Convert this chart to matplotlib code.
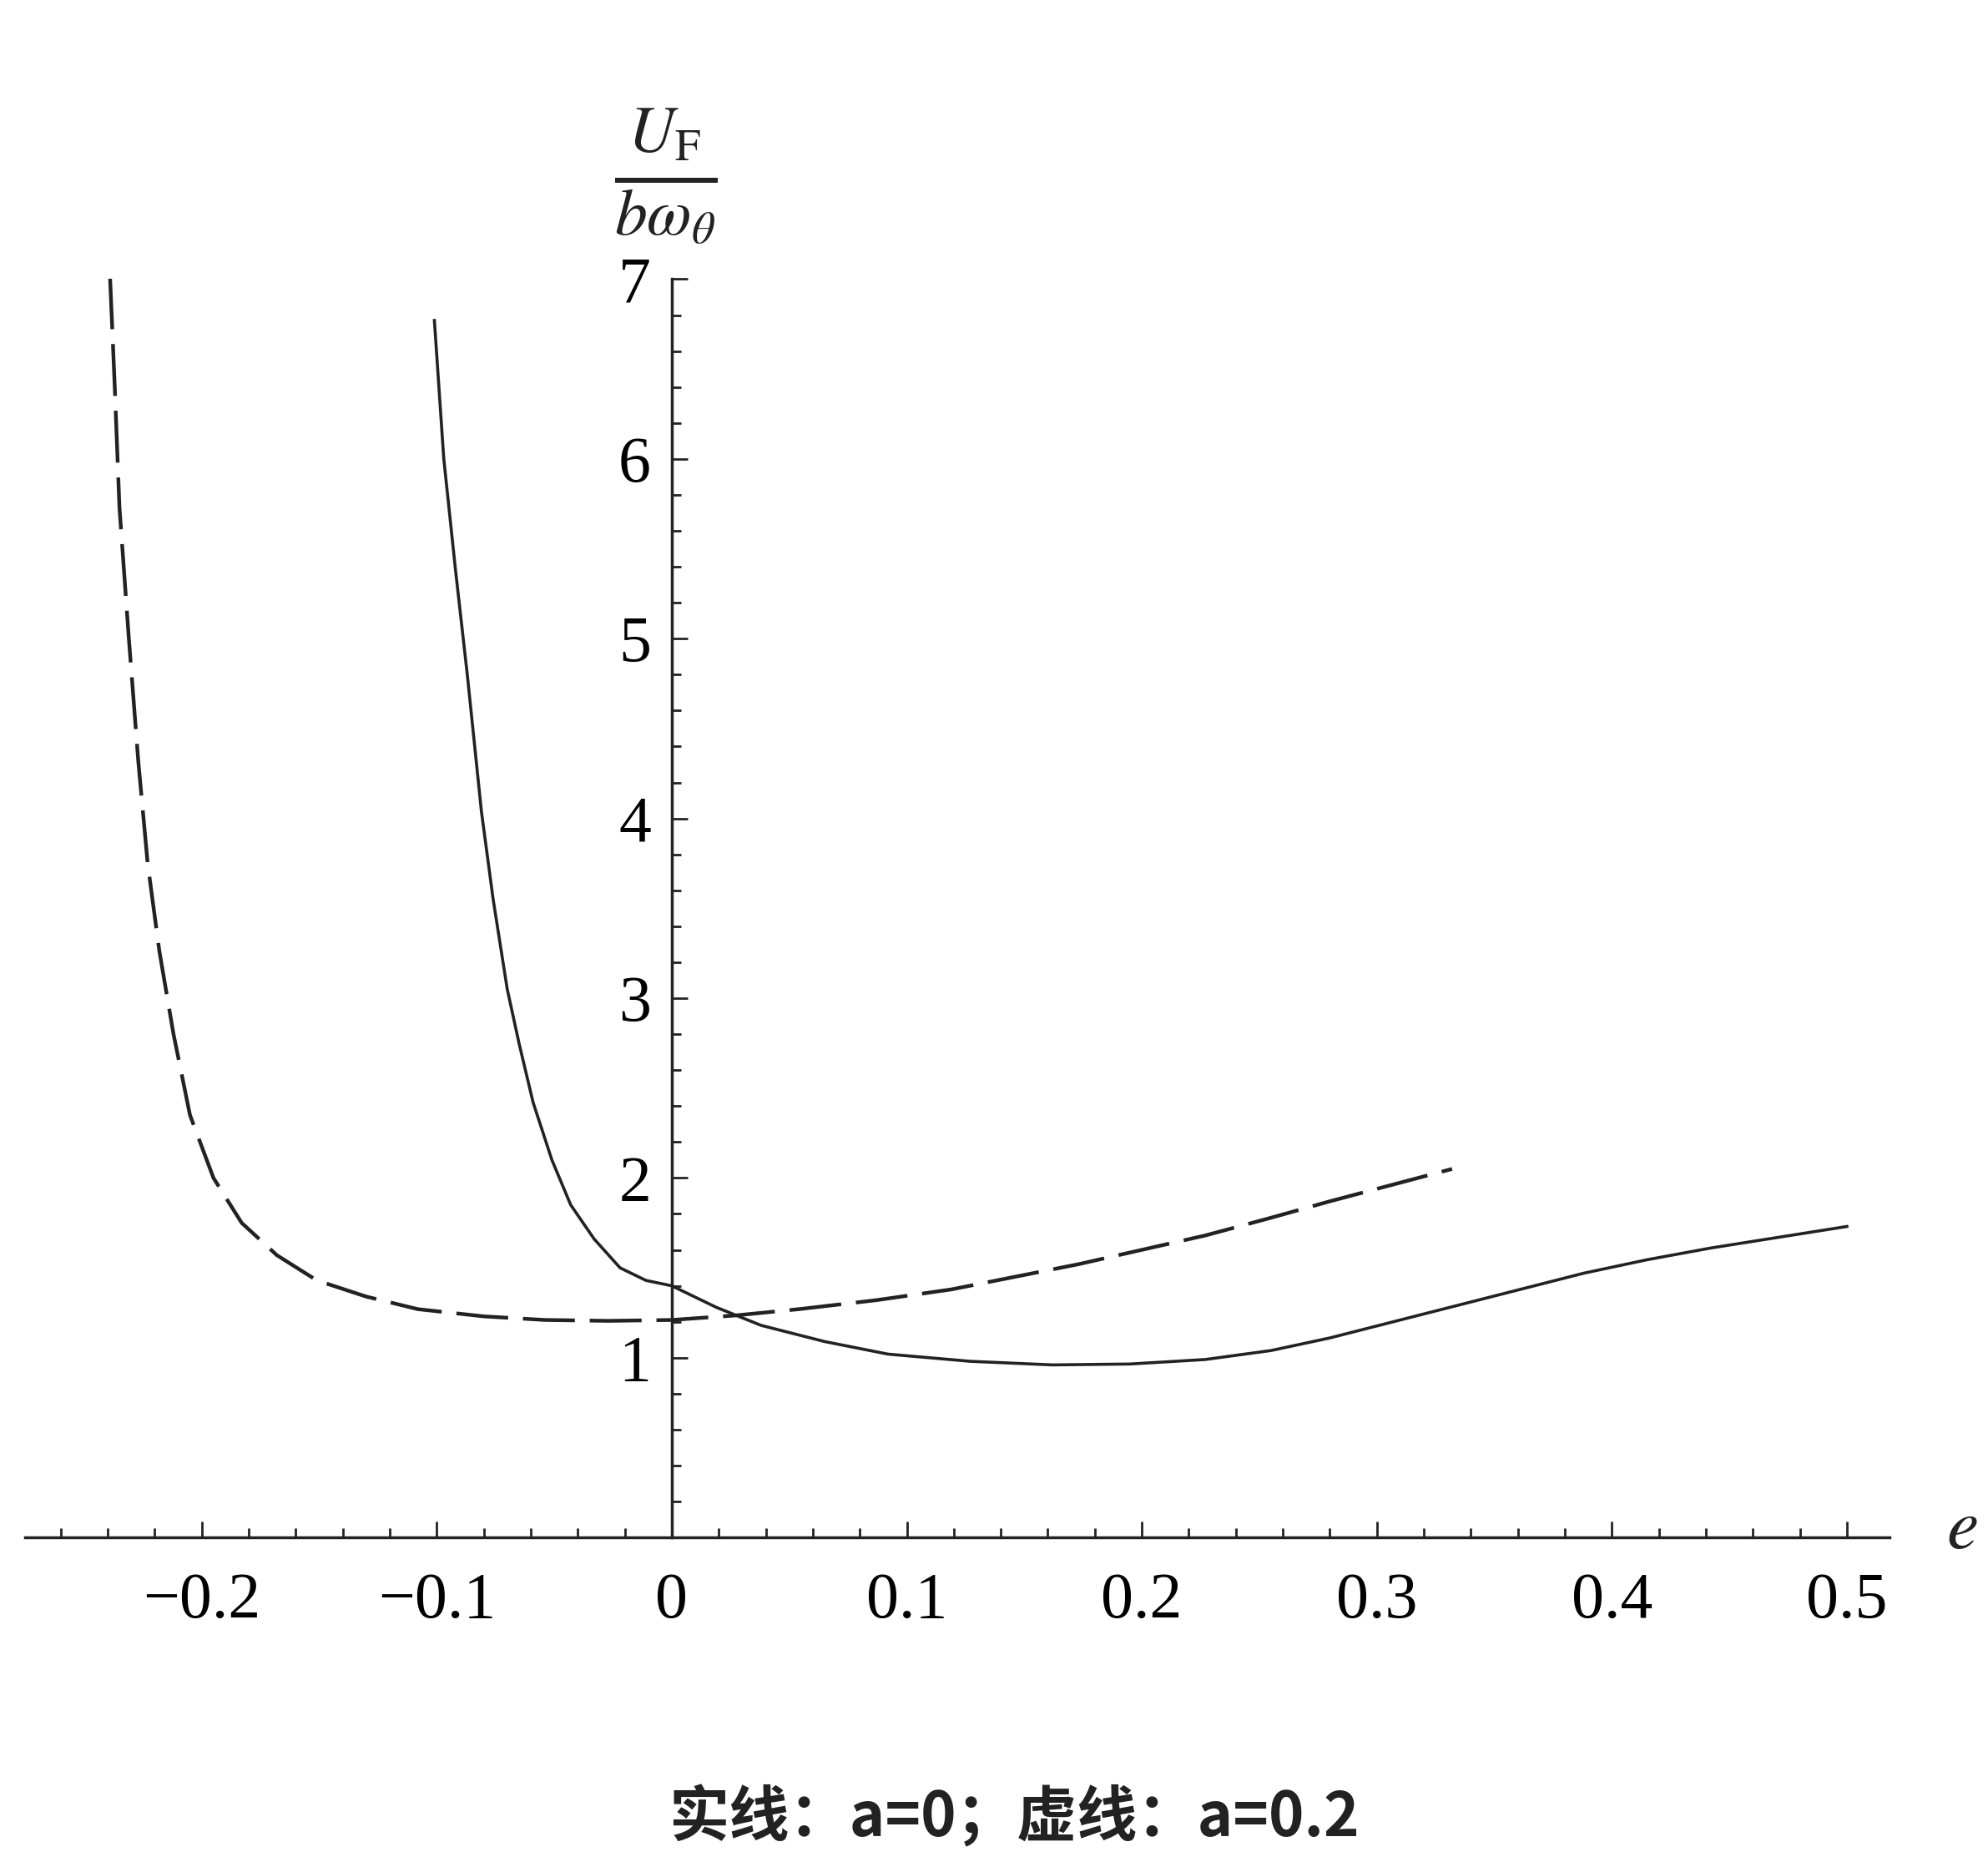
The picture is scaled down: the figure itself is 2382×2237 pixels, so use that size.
import matplotlib.pyplot as plt
from matplotlib.ticker import MultipleLocator

# solid curve, a = 0
e_solid = [-0.101, -0.097, -0.092, -0.087, -0.081, -0.076, -0.070, -0.065, -0.059, -0.051,
           -0.043, -0.033, -0.022, -0.011, 0.0, 0.019, 0.038, 0.065, 0.092, 0.127,
           0.162, 0.195, 0.227, 0.255, 0.28, 0.307, 0.334, 0.361, 0.388, 0.415, 0.442, 0.471, 0.5]
u_solid = [6.77, 6.00, 5.38, 4.80, 4.04, 3.55, 3.05, 2.75, 2.42, 2.10,
           1.85, 1.66, 1.50, 1.43, 1.40, 1.28, 1.18, 1.09, 1.02, 0.98,
           0.96, 0.965, 0.99, 1.04, 1.11, 1.20, 1.29, 1.38, 1.47, 1.545, 1.61, 1.67, 1.73]

# dashed curve, a = 0.2
e_dash = [-0.239, -0.237, -0.235, -0.231, -0.227, -0.223, -0.218, -0.212, -0.205, -0.195,
          -0.183, -0.168, -0.151, -0.13, -0.108, -0.08, -0.054, -0.027, 0.0,
          0.027, 0.054, 0.087, 0.119, 0.146, 0.173, 0.2, 0.227, 0.254, 0.28, 0.306, 0.332]
u_dash = [7.01, 6.40, 5.73, 5.00, 4.32, 3.75, 3.26, 2.80, 2.35, 2.00,
          1.75, 1.57, 1.43, 1.34, 1.27, 1.23, 1.21, 1.205, 1.21,
          1.235, 1.27, 1.32, 1.38, 1.45, 1.52, 1.60, 1.68, 1.775, 1.87, 1.96, 2.05]

x_ticks = [-0.2, -0.1, 0, 0.1, 0.2, 0.3, 0.4, 0.5]
x_labels = ['\u22120.2', '\u22120.1', '0', '0.1', '0.2', '0.3', '0.4', '0.5']
y_ticks = [1, 2, 3, 4, 5, 6, 7]

plt.rcParams['font.family'] = 'Liberation Serif'
plt.rcParams['mathtext.fontset'] = 'stix'

fig = plt.figure(figsize=(23.82, 22.37), dpi=100)
ax = fig.add_axes([0.0128, 0.1765, 0.9375, 0.674])
ax.set_xlim(-0.275, 0.518)
ax.set_ylim(0, 7.0)

ax.plot(e_solid, u_solid, color='#222', lw=2.6)
ax.plot(e_dash, u_dash, color='#222', lw=3.2, dashes=(14, 4))

for s in ['top', 'right']:
    ax.spines[s].set_visible(False)
ax.spines['left'].set_position(('data', 0))
ax.spines['bottom'].set_position(('data', 0))
for s in ['left', 'bottom']:
    ax.spines[s].set_linewidth(2.5)
    ax.spines[s].set_color('#222')

ax.set_xticks(x_ticks)
ax.set_xticklabels(x_labels)
ax.set_yticks(y_ticks)
ax.xaxis.set_minor_locator(MultipleLocator(0.02))
ax.yaxis.set_minor_locator(MultipleLocator(0.2))
ax.tick_params(axis='both', which='both', direction='in', color='#222', width=2)
ax.tick_params(axis='x', which='major', length=14, labelsize=56, pad=30)
ax.tick_params(axis='x', which='minor', length=8)
ax.tick_params(axis='y', which='major', length=14, labelsize=56, pad=18)
ax.tick_params(axis='y', which='minor', length=8)

fig.text(0.335, 0.905, r'$\frac{U_\mathrm{F}}{b\omega_\theta}$', fontsize=80,
         ha='center', va='center', color='#222')
fig.text(0.987, 0.18, r'$e$', fontsize=62, ha='center', va='center', color='#222')
fig.text(0.51, 0.026, '实线：a=0；虚线：a=0.2', fontsize=52, ha='center', va='center',
         family='Noto Sans CJK SC', weight='bold', color='#222')

fig.savefig('out.png', dpi=100)
